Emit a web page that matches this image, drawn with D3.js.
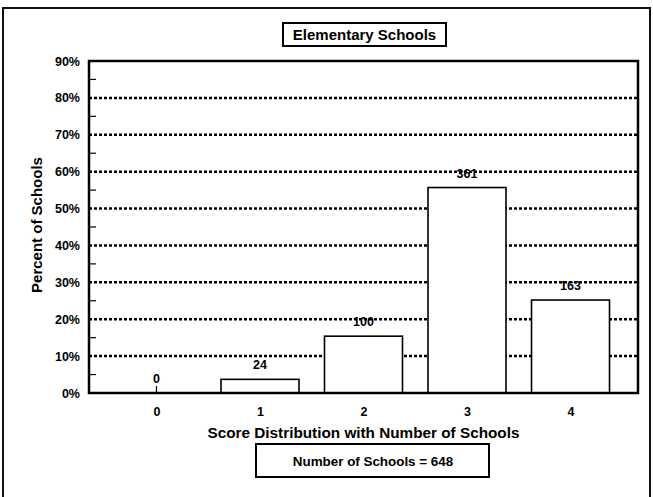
<!DOCTYPE html>
<html>
<head>
<meta charset="utf-8">
<script src="https://cdn.jsdelivr.net/npm/d3@7"></script>
<style>
  html, body { margin: 0; padding: 0; background: #fff; }
  svg { display: block; font-family: "Liberation Sans", Arial, sans-serif; font-weight: bold; }
</style>
</head>
<body>
<svg id="chart" width="653" height="497"></svg>
<script>
// ---- data ----
const categories = ["0", "1", "2", "3", "4"];
const percentValues = [0, 3.7, 15.4, 55.7, 25.2];
const schoolCounts = [0, 24, 100, 361, 163];
const yTickValues = [0, 10, 20, 30, 40, 50, 60, 70, 80, 90];
const yMinorTicks = [5, 15, 25, 35, 45, 55, 65, 75, 85];
const titleText = "Elementary Schools";
const xAxisTitle = "Score Distribution with Number of Schools";
const yAxisTitle = "Percent of Schools";
const noteText = "Number of Schools = 648";

// ---- layout ----
const plot = { left: 89, right: 638, top: 61, bottom: 393 };
const svg = d3.select("#chart");

// outer frame
svg.append("rect").attr("x", 3).attr("y", 8).attr("width", 647).attr("height", 510)
  .attr("fill", "none").attr("stroke", "#111").attr("stroke-width", 2);

const x = d3.scalePoint().domain(categories).range([plot.left, plot.right]).padding(0.652);
const y = d3.scaleLinear().domain([0, 90]).range([plot.bottom, plot.top]);
const barW = 78;

// gridlines (dotted)
svg.append("g").selectAll("line").data(yTickValues.filter(v => v > 0 && v < 90)).join("line")
  .attr("x1", plot.left).attr("x2", plot.right)
  .attr("y1", d => y(d)).attr("y2", d => y(d))
  .attr("stroke", "#000").attr("stroke-width", 2.5).attr("stroke-dasharray", "3,2");

// minor ticks
svg.append("g").selectAll("line").data(yMinorTicks).join("line")
  .attr("x1", plot.left).attr("x2", plot.left + 7)
  .attr("y1", d => y(d)).attr("y2", d => y(d))
  .attr("stroke", "#000").attr("stroke-width", 1.2);

// bars
const bars = svg.append("g");
categories.forEach((c, i) => {
  const v = percentValues[i];
  if (v > 0) {
    bars.append("rect")
      .attr("x", x(c) - barW / 2).attr("y", y(v))
      .attr("width", barW).attr("height", y(0) - y(v))
      .attr("fill", "#fff").attr("stroke", "#000").attr("stroke-width", 1.6);
  } else {
    bars.append("line")
      .attr("x1", x(c)).attr("x2", x(c))
      .attr("y1", y(0) - 7).attr("y2", y(0))
      .attr("stroke", "#000").attr("stroke-width", 1.2);
  }
  bars.append("text")
    .attr("x", x(c)).attr("y", y(v) - 10)
    .attr("text-anchor", "middle").attr("font-size", 12.5)
    .text(schoolCounts[i]);
});

// plot frame
svg.append("rect").attr("x", plot.left).attr("y", plot.top)
  .attr("width", plot.right - plot.left).attr("height", plot.bottom - plot.top)
  .attr("fill", "none").attr("stroke", "#000").attr("stroke-width", 2.5);

// y axis labels
const yAxis = d3.axisLeft(y).tickValues(yTickValues).tickSize(0).tickPadding(9)
  .tickFormat(d => d + "%");
const gy = svg.append("g").attr("transform", `translate(${plot.left},0)`).call(yAxis);
gy.select(".domain").remove();
gy.selectAll("text").attr("font-size", 12.5).attr("font-weight", "bold")
  .attr("font-family", "Liberation Sans, Arial, sans-serif").attr("fill", "#000");

// x axis labels
const xAxis = d3.axisBottom(x).tickSize(0).tickPadding(14);
const gx = svg.append("g").attr("transform", `translate(0,${plot.bottom})`).call(xAxis);
gx.select(".domain").remove();
gx.selectAll("text").attr("font-size", 12.5).attr("font-weight", "bold")
  .attr("font-family", "Liberation Sans, Arial, sans-serif").attr("fill", "#000");

// title box
const cx = (plot.left + plot.right) / 2;
svg.append("rect").attr("x", 283).attr("y", 23).attr("width", 163).attr("height", 23)
  .attr("fill", "#fff").attr("stroke", "#000").attr("stroke-width", 2);
svg.append("text").attr("x", 364.5).attr("y", 40).attr("text-anchor", "middle")
  .attr("font-size", 15).text(titleText);

// axis titles
svg.append("text").attr("x", cx).attr("y", 437.5).attr("text-anchor", "middle")
  .attr("font-size", 15.3).text(xAxisTitle);
svg.append("text").attr("transform", `translate(42,${(plot.top + plot.bottom) / 2 - 2}) rotate(-90)`)
  .attr("text-anchor", "middle").attr("font-size", 15).text(yAxisTitle);

// note box
svg.append("rect").attr("x", 256).attr("y", 444).attr("width", 233).attr("height", 33)
  .attr("fill", "#fff").attr("stroke", "#000").attr("stroke-width", 2);
svg.append("text").attr("x", 373).attr("y", 465.5).attr("text-anchor", "middle")
  .attr("font-size", 13.4).text(noteText);
</script>
</body>
</html>
